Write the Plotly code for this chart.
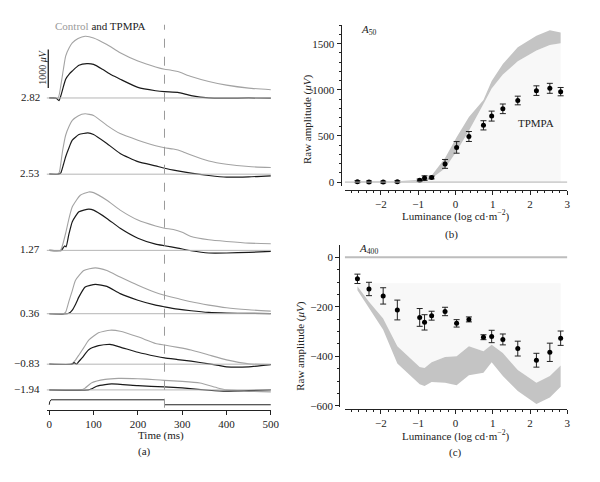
import plotly.graph_objects as go

W, H = 600, 482
FONT = "Liberation Serif"

# ---- (a) ERG traces, time in ms, amplitude in uV ----
row_labels = ["2.82", "2.53", "1.27", "0.36", "\u22120.83", "\u22121.94"]

ctrl_t_282 = [0, 20, 26, 32, 37, 45, 52, 65, 81, 100, 130, 160, 200, 240, 260, 275, 290, 320, 360, 400, 450, 500]
ctrl_v_282 = [0, 0, 316, 750, 1085, 1300, 1427, 1540, 1598, 1556, 1385, 1171, 957, 803, 744, 720, 684, 556, 427, 333, 256, 214]
tpm_t_282 = [0, 15, 22, 26, 32, 37, 45, 52, 67, 85, 100, 120, 140, 160, 200, 240, 260, 290, 320, 360, 400, 450, 500]
tpm_v_282 = [0, 0, -70, 50, 300, 487, 620, 700, 846, 890, 870, 744, 600, 487, 274, 188, 162, 145, 60, 0, -5, 0, -5]

ctrl_t_253 = [0, 20, 23, 30, 37, 45, 52, 65, 81, 100, 130, 160, 200, 240, 260, 280, 300, 320, 360, 400, 450, 500]
ctrl_v_253 = [0, 0, 60, 600, 1009, 1250, 1393, 1510, 1564, 1521, 1265, 1051, 880, 735, 684, 650, 590, 496, 342, 256, 197, 171]
tpm_t_253 = [0, 22, 26, 32, 37, 45, 52, 67, 87, 100, 130, 160, 200, 240, 260, 290, 320, 360, 400, 450, 500]
tpm_v_253 = [0, 0, 30, 250, 453, 700, 880, 1026, 1068, 1026, 795, 538, 325, 214, 154, 85, 26, -34, -77, -68, -43]

ctrl_t_127 = [0, 25, 28, 37, 45, 52, 70, 89, 100, 130, 160, 200, 240, 260, 280, 300, 320, 360, 400, 450, 500]
ctrl_v_127 = [0, 0, 60, 444, 850, 1128, 1427, 1513, 1496, 1299, 1043, 786, 632, 573, 540, 470, 359, 274, 231, 188, 171]
tpm_t_127 = [0, 28, 31, 35, 38, 44, 52, 67, 89, 100, 130, 160, 200, 240, 260, 290, 320, 360, 400, 450, 500]
tpm_v_127 = [0, 0, 60, 120, 90, 402, 744, 1000, 1068, 1043, 829, 573, 316, 162, 120, 60, -9, -68, -68, -51, -26]

ctrl_t_036 = [0, 33, 37, 44, 52, 59, 78, 104, 130, 160, 200, 240, 260, 290, 320, 360, 400, 450, 500]
ctrl_v_036 = [0, 0, 40, 308, 600, 863, 1120, 1188, 1120, 949, 735, 547, 479, 393, 308, 222, 154, 103, 68]
tpm_t_036 = [0, 40, 44, 52, 60, 67, 81, 104, 130, 160, 200, 240, 260, 290, 320, 360, 400, 450, 500]
tpm_v_036 = [0, 0, 10, 94, 260, 436, 692, 761, 709, 521, 350, 222, 179, 120, 77, 34, 17, 9, 0]

ctrl_t_m083 = [0, 48, 52, 60, 67, 78, 89, 111, 137, 160, 200, 240, 260, 290, 320, 360, 400, 450, 500]
ctrl_v_m083 = [0, 0, 20, 120, 239, 430, 624, 812, 880, 855, 709, 538, 496, 436, 368, 239, 111, 9, -9]
tpm_t_m083 = [0, 52, 56, 62, 66, 74, 89, 111, 137, 160, 200, 240, 260, 290, 320, 360, 400, 450, 500]
tpm_v_m083 = [0, 0, 40, 0, 60, 162, 376, 479, 513, 444, 308, 205, 162, 120, 77, 9, -68, -68, -9]

ctrl_t_m194 = [0, 70, 80, 96, 126, 156, 200, 240, 260, 300, 340, 380, 400, 450, 500]
ctrl_v_m194 = [0, 0, 40, 188, 274, 299, 290, 265, 248, 222, 179, 51, 0, -34, -51]
tpm_t_m194 = [0, 88, 96, 107, 126, 141, 200, 260, 300, 360, 400, 450, 500]
tpm_v_m194 = [0, 0, 30, 94, 137, 154, 111, 77, 51, -9, -34, -17, 0]

stim_t = [0, 1, 4, 260, 260, 500]
stim_v = [0, 0.6, 1, 1, 0, 0]

rows = [
    (ctrl_t_282, ctrl_v_282, tpm_t_282, tpm_v_282),
    (ctrl_t_253, ctrl_v_253, tpm_t_253, tpm_v_253),
    (ctrl_t_127, ctrl_v_127, tpm_t_127, tpm_v_127),
    (ctrl_t_036, ctrl_v_036, tpm_t_036, tpm_v_036),
    (ctrl_t_m083, ctrl_v_m083, tpm_t_m083, tpm_v_m083),
    (ctrl_t_m194, ctrl_v_m194, tpm_t_m194, tpm_v_m194),
]

# ---- (b), (c) amplitude vs luminance ----
lum = [-2.63, -2.32, -1.94, -1.56, -0.96, -0.83, -0.64, -0.28, 0.03, 0.36, 0.75, 0.97, 1.27, 1.67, 2.17, 2.53, 2.82]
a50 = [4, 2, 0, 4, 21, 43, 50, 197, 376, 494, 615, 715, 794, 884, 991, 1016, 980]
a50_err = [10, 10, 10, 10, 12, 25, 15, 48, 63, 54, 50, 54, 52, 47, 52, 54, 45]
a50_ctrl_hi = [5, 5, 5, 8, 25, 35, 70, 260, 485, 705, 890, 1095, 1280, 1460, 1585, 1645, 1620]
a50_ctrl_lo = [0, 0, 0, 0, 5, 8, 40, 150, 335, 555, 845, 1015, 1165, 1310, 1425, 1485, 1505]

a400 = [-87, -128, -156, -213, -243, -263, -236, -219, -267, -251, -323, -320, -332, -369, -416, -384, -327]
a400_err = [19, 27, 33, 40, 36, 31, 18, 17, 15, 10, 10, 25, 22, 30, 28, 37, 29]
a400_ctrl_hi = [-117, -180, -247, -360, -443, -447, -424, -403, -400, -360, -380, -353, -387, -456, -507, -480, -437]
a400_ctrl_lo = [-133, -207, -293, -429, -513, -520, -504, -507, -517, -477, -467, -424, -480, -540, -593, -567, -523]


def px_x(px):
    return px / W


def px_y(px):
    return 1 - px / H


GREY = "#a3a3a3"
BAND = "#c4c4c4"
FAINT = "#f8f8f8"
tickfont = dict(family=FONT, size=11, color="#222")

fig = go.Figure()

# panel (a): one y axis per luminance row, all on the same uV scale
UV_PX = 0.039  # px per uV
row_base_px = [99, 176, 253, 317, 368, 394]
layout_axes = {}
for i, (ct, cv, tt, tv) in enumerate(rows):
    n = i + 1
    yname = "y" if n == 1 else f"y{n}"
    key = "yaxis" if n == 1 else f"yaxis{n}"
    base = row_base_px[i]
    layout_axes[key] = dict(
        domain=[px_y(base + 250 * UV_PX), px_y(base - 1750 * UV_PX)],
        range=[-250, 1750], anchor="x", visible=False,
    )
    fig.add_shape(type="line", xref="x", yref=yname, x0=-6, x1=500, y0=0, y1=0,
                  line=dict(color="#b5b5b5", width=1))
    fig.add_trace(go.Scatter(x=ct, y=cv, mode="lines", xaxis="x", yaxis=yname,
                             line=dict(color=GREY, width=1.1, shape="spline", smoothing=0.5)))
    fig.add_trace(go.Scatter(x=tt, y=tv, mode="lines", xaxis="x", yaxis=yname,
                             line=dict(color="#1a1a1a", width=1.2, shape="spline", smoothing=0.5)))
    fig.add_annotation(text=row_labels[i], x=px_x(43), y=px_y(base - 1), xref="paper", yref="paper",
                       showarrow=False, xanchor="right", yanchor="middle",
                       font=dict(family=FONT, size=11, color="#222"))

# stimulus trace
layout_axes["yaxis7"] = dict(domain=[px_y(411.5), px_y(401.5)], range=[-0.5, 1.5], anchor="x",
                             visible=False)
fig.add_trace(go.Scatter(x=stim_t, y=stim_v, mode="lines", xaxis="x", yaxis="y7",
                         line=dict(color="#222", width=1)))

# scale bar (1000 uV) on the top row
fig.add_shape(type="line", xref="x", yref="y", x0=-2.2, x1=-2.2, y0=256, y1=1256,
              line=dict(color="#222", width=1.3))
# dashed stimulus offset line
fig.add_shape(type="line", xref="x", yref="paper", x0=260, x1=260, y0=px_y(412), y1=px_y(25),
              line=dict(color="#9a9a9a", width=1, dash="dash"))

# panel (b)
fig.add_trace(go.Scatter(x=[lum[0], lum[-1]], y=[0, 0], mode="lines", xaxis="x2", yaxis="y8",
                         line=dict(width=0, color=FAINT)))
fig.add_trace(go.Scatter(x=lum, y=a50_ctrl_lo, mode="lines", xaxis="x2", yaxis="y8",
                         line=dict(width=0, color=BAND), fill="tonexty", fillcolor=FAINT))
fig.add_trace(go.Scatter(x=lum, y=a50_ctrl_hi, mode="lines", xaxis="x2", yaxis="y8",
                         line=dict(width=0, color=BAND), fill="tonexty", fillcolor=BAND))
fig.add_shape(type="line", xref="x2", yref="y8", x0=-2.97, x1=3.0, y0=0, y1=0,
              line=dict(color="#b0b0b0", width=1))
fig.add_trace(go.Scatter(x=lum, y=a50, mode="markers", xaxis="x2", yaxis="y8",
                         marker=dict(color="black", size=5),
                         error_y=dict(type="data", array=a50_err, color="#222", thickness=1, width=3)))

# panel (c)
fig.add_trace(go.Scatter(x=[lum[0], lum[-1]], y=[-105, -105], mode="lines", xaxis="x3", yaxis="y9",
                         line=dict(width=0, color=FAINT)))
fig.add_trace(go.Scatter(x=lum, y=a400_ctrl_hi, mode="lines", xaxis="x3", yaxis="y9",
                         line=dict(width=0, color=BAND), fill="tonexty", fillcolor=FAINT))
fig.add_trace(go.Scatter(x=lum, y=a400_ctrl_lo, mode="lines", xaxis="x3", yaxis="y9",
                         line=dict(width=0, color=BAND), fill="tonexty", fillcolor=BAND))
fig.add_shape(type="line", xref="x3", yref="y9", x0=-2.97, x1=3.0, y0=0, y1=0,
              line=dict(color="#bdbdbd", width=2))
fig.add_trace(go.Scatter(x=lum, y=a400, mode="markers", xaxis="x3", yaxis="y9",
                         marker=dict(color="black", size=5),
                         error_y=dict(type="data", array=a400_err, color="#222", thickness=1, width=3)))

axis_common = dict(showgrid=False, zeroline=False, showline=True, linecolor="#222", linewidth=1,
                   ticks="outside", ticklen=4, tickcolor="#222", tickfont=tickfont)

lum_minor = dict(ticks="outside", ticklen=2, dtick=0.2, tickcolor="#222")

fig.update_layout(
    width=W, height=H, autosize=False,
    margin=dict(l=0, r=0, t=0, b=0),
    paper_bgcolor="white", plot_bgcolor="rgba(0,0,0,0)",
    showlegend=False,
    font=dict(family=FONT, size=11, color="#222"),
    xaxis=dict(domain=[px_x(47.3), px_x(275)], range=[-6, 500], anchor="free",
               position=px_y(414), tickvals=[0, 100, 200, 300, 400, 500], **axis_common),
    xaxis2=dict(domain=[px_x(350), px_x(576)], range=[-2.97, 3.0], anchor="free",
                position=px_y(191.7), tickvals=[-2, -1, 0, 1, 2, 3],
                ticktext=["\u22122", "\u22121", "0", "1", "2", "3"], minor=lum_minor, **axis_common),
    xaxis3=dict(domain=[px_x(350), px_x(576)], range=[-2.97, 3.0], anchor="free",
                position=px_y(413.3), tickvals=[-2, -1, 0, 1, 2, 3],
                ticktext=["\u22122", "\u22121", "0", "1", "2", "3"], minor=lum_minor, **axis_common),
    yaxis8=dict(domain=[px_y(188), px_y(25)], range=[-43, 1705], anchor="free",
                position=px_x(345.7), tickvals=[0, 500, 1000, 1500],
                minor=dict(ticks="outside", ticklen=2, dtick=100, tickcolor="#222"), **axis_common),
    yaxis9=dict(domain=[px_y(411), px_y(248)], range=[-604, 48], anchor="free",
                position=px_x(344.3), tickvals=[0, -200, -400, -600],
                ticktext=["0", "\u2212200", "\u2212400", "\u2212600"],
                minor=dict(ticks="outside", ticklen=2, dtick=50, tickcolor="#222"), **axis_common),
    **layout_axes,
)


def note(text, x, y, size=11, angle=0, xanchor="center"):
    fig.add_annotation(text=text, x=px_x(x), y=px_y(y), xref="paper", yref="paper",
                       showarrow=False, textangle=angle, xanchor=xanchor, yanchor="middle",
                       font=dict(family=FONT, size=size, color="#222"))


note('<span style="color:#9a9a9a">Control</span> and TPMPA', 102.5, 26)
note("1000 <i>\u03bcV</i>", 43, 67, angle=-90, size=10)
note("Time (ms)", 163, 440)
note("(a)", 147, 456)

note("<i>A</i><sub>50</sub>", 364, 30, xanchor="left")
note("TPMPA", 544, 124)
note("Raw amplitude (<i>\u03bcV</i>)", 312, 120, angle=-90)
note("Luminance (log cd\u00b7m<sup>\u22122</sup>)", 463, 218)
note("(b)", 458, 237)

note("<i>A</i><sub>400</sub>", 362, 252, xanchor="left")
note("Raw amplitude (<i>\u03bcV</i>)", 305, 349, angle=-90)
note("Luminance (log cd\u00b7m<sup>\u22122</sup>)", 463, 440)
note("(c)", 462, 457)

fig.write_html("out.html", config={"displayModeBar": False},
               post_script="document.body.style.margin='0';")
